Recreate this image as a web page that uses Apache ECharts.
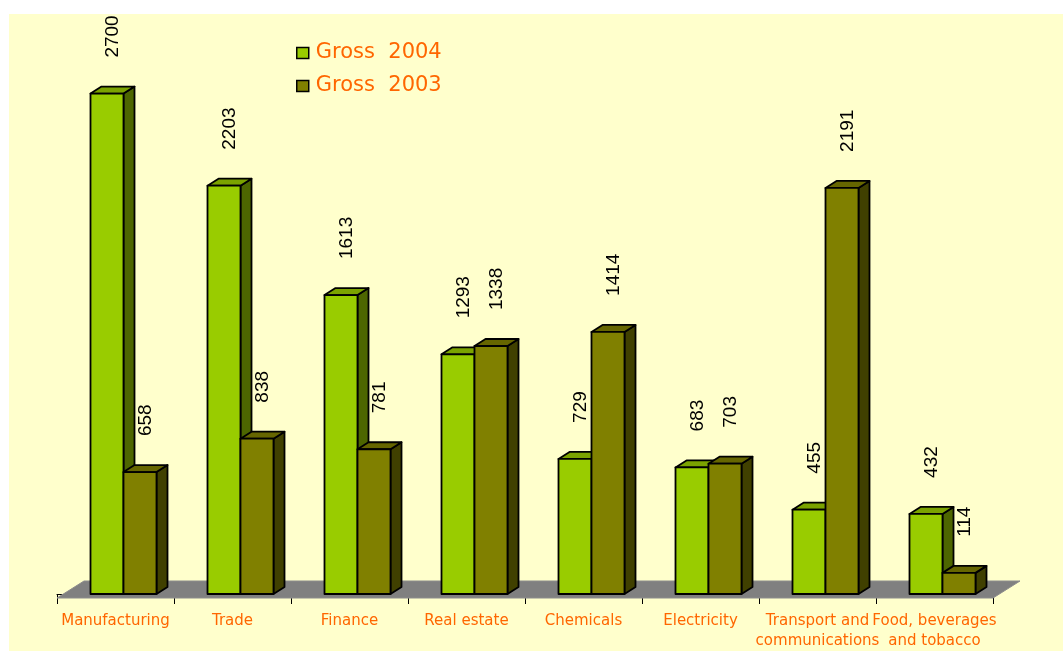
<!DOCTYPE html>
<html>
<head>
<meta charset="utf-8">
<script src="https://cdn.jsdelivr.net/npm/echarts@6/dist/echarts.min.js"></script>
<style>
  html, body { margin: 0; padding: 0; background: #ffffff; }
  #chart { width: 1063px; height: 651px; }
</style>
</head>
<body>
<div id="chart"></div>
<script>
// ---- data ----
const categories = ['Manufacturing', 'Trade', 'Finance', 'Real estate', 'Chemicals', 'Electricity', 'Transport and\ncommunications', 'Food, beverages\nand tobacco'];
const seriesNames = ['Gross 2004', 'Gross 2003'];
const gross2004 = [2700, 2203, 1613, 1293, 729, 683, 455, 432];
const gross2003 = [658, 838, 781, 1338, 1414, 703, 2191, 114];

// ---- styling / geometry constants ----
const BAR_FRAC = 33 / 117;     // bar width relative to category band
const SHIFT_FRAC = 8 / 117;    // shift of bar pair to the right (perspective)
const DX = 11, DY = -7;        // bar depth offset
const FLOOR_DX = 27, FLOOR_DY = -17, FLOOR_FRONT = 4;
const LABEL_GAP = 36;
const palette = [
  { front: '#99CC00', top: '#7BA300', side: '#4D6600' },
  { front: '#808000', top: '#666600', side: '#404000' }
];

function barRenderer(idx) {
  const c = palette[idx];
  return function (params, api) {
    const cat = api.value(0), val = api.value(1);
    const base = api.coord([cat, 0]);
    const top = api.coord([cat, val]);
    const band = api.size([1, 0])[0];
    const bw = band * BAR_FRAC;
    const x0 = base[0] + band * SHIFT_FRAC - bw + idx * bw;
    const ty = top[1], by = base[1];
    const stroke = { stroke: '#000', lineWidth: 1.8, lineJoin: 'round' };
    return {
      type: 'group',
      children: [
        { type: 'polygon', shape: { points: [[x0 + bw, ty], [x0 + bw + DX, ty + DY], [x0 + bw + DX, by + DY], [x0 + bw, by]] },
          style: Object.assign({ fill: c.side }, stroke) },
        { type: 'polygon', shape: { points: [[x0, ty], [x0 + DX, ty + DY], [x0 + bw + DX, ty + DY], [x0 + bw, ty]] },
          style: Object.assign({ fill: c.top }, stroke) },
        { type: 'rect', shape: { x: x0, y: ty, width: bw, height: by - ty },
          style: Object.assign({ fill: c.front }, stroke) },
        { type: 'text', x: x0 + bw / 2 + DX / 2, y: ty - LABEL_GAP, rotation: Math.PI / 2,
          style: { text: String(val), fill: '#000', font: '19px "Liberation Sans", Arial, sans-serif',
                   textAlign: 'left', textVerticalAlign: 'middle' } }
      ]
    };
  };
}

function floorRenderer(params, api) {
  const cs = params.coordSys;
  const l = cs.x, r = cs.x + cs.width, y = cs.y + cs.height + FLOOR_FRONT;
  return {
    type: 'polygon',
    shape: { points: [[l, y], [r, y], [r + FLOOR_DX, y + FLOOR_DY], [l + FLOOR_DX, y + FLOOR_DY]] },
    style: { fill: '#808080', stroke: '#8c8c8c', lineWidth: 1 }
  };
}

const chart = echarts.init(document.getElementById('chart'));
chart.setOption({
  animation: false,
  backgroundColor: 'transparent',
  graphic: [{
    type: 'rect', left: 9, top: 14, z: -10, silent: true,
    shape: { width: 1054, height: 637 }, style: { fill: '#FFFFCC' }
  }],
  legend: {
    orient: 'vertical', left: 291, top: 37,
    itemWidth: 12, itemHeight: 11, itemGap: 11,
    icon: 'rect',
    selectedMode: false,
    formatter: n => n.replace(' ', '  '),
    textStyle: { color: '#FF6600', fontSize: 21, lineHeight: 22, fontFamily: '"DejaVu Sans", sans-serif', padding: [0, 0, 0, 2] },
    data: [
      { name: seriesNames[0], itemStyle: { color: palette[0].front, borderColor: '#000', borderWidth: 1.5 } },
      { name: seriesNames[1], itemStyle: { color: palette[1].front, borderColor: '#000', borderWidth: 1.5 } }
    ]
  },
  grid: { left: 57, right: 70, top: 38, bottom: 55 },
  xAxis: {
    type: 'category', data: categories, boundaryGap: true, offset: FLOOR_FRONT,
    axisLine: { show: true, lineStyle: { color: '#000', width: 1 } },
    axisTick: { show: true, length: 10, lineStyle: { color: '#000' } },
    axisLabel: { interval: 0, margin: 13, color: '#FF6600', fontSize: 15, lineHeight: 20,
                 fontFamily: '"DejaVu Sans", sans-serif' },
    splitLine: { show: false }
  },
  yAxis: { type: 'value', min: 0, max: 3000, show: false, splitLine: { show: false } },
  series: [
    { type: 'custom', name: 'floor', renderItem: floorRenderer, data: [[0, 0]], z: 1, silent: true },
    { type: 'custom', name: seriesNames[0], renderItem: barRenderer(0), z: 2,
      itemStyle: { color: palette[0].front },
      data: gross2004.map((v, i) => [i, v]) },
    { type: 'custom', name: seriesNames[1], renderItem: barRenderer(1), z: 3,
      itemStyle: { color: palette[1].front },
      data: gross2003.map((v, i) => [i, v]) }
  ]
});
</script>
</body>
</html>
